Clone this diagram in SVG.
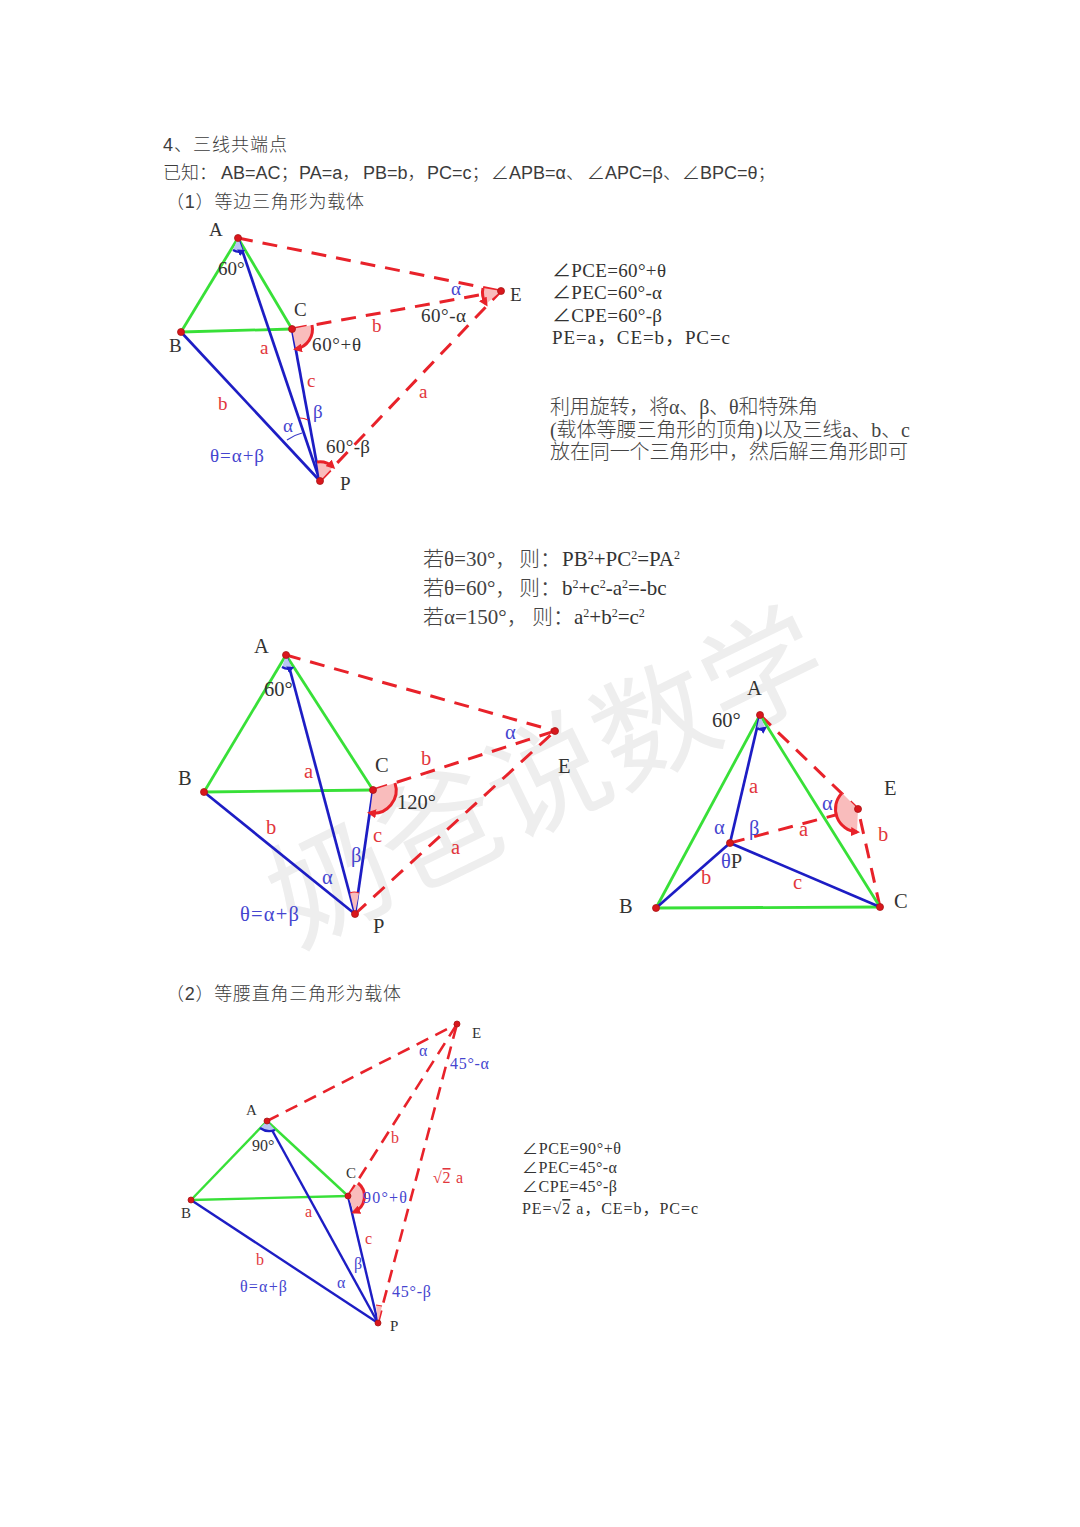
<svg xmlns="http://www.w3.org/2000/svg" width="1080" height="1527" viewBox="0 0 1080 1527">
<style>
text{font-family:"Liberation Serif","Noto Sans CJK SC",serif;fill:#333}
.h{font-family:"Liberation Sans","Noto Sans CJK SC",sans-serif;font-size:18px;fill:#3c3c3c;font-weight:300}
.wm{font-family:"Noto Sans CJK SC",sans-serif;font-size:120px;fill:#eeeeee;font-weight:400}
.cn{fill:#444;font-weight:300}
.t19{font-size:19px}.t20{font-size:20px}.t21{font-size:21px}.t16{font-size:16px}
.s18{font-size:19px}.s20{font-size:20.5px}.s15{font-size:15px}.s16{font-size:16px}
.r{fill:#e2363c}.b{fill:#4545cf}.k{fill:#333}
.g{stroke:#38e038;stroke-width:2.8;fill:none}
.u{stroke:#1d1dc4;stroke-width:2.7;fill:none}
.d{stroke:#e8222a;stroke-width:3;fill:none;stroke-dasharray:15 10}
.d4 .g,.d4 .u{stroke-width:2.4}.d4 .d{stroke-width:2.6;stroke-dasharray:13 8}
.w{fill:#f9bcbc;stroke:none}.wb{fill:#b9c4f2;stroke:none}
.a{stroke:#e8222a;stroke-width:3;fill:none}
.ab{stroke:#1d1dc4;stroke-width:2.4;fill:none}
.th{stroke:#e8222a;stroke-width:1.2;fill:none}.thb{stroke:#3d3dc8;stroke-width:1.2;fill:none}
.p{fill:#d9161c;stroke:#a81616;stroke-width:.8}
</style>
<defs>
<marker id="mr" markerWidth="3" markerHeight="3" refX="2" refY="1.5" orient="auto" markerUnits="strokeWidth"><path d="M0 0L3 1.5L0 3Z" fill="#e8222a"/></marker>
<marker id="mb" markerWidth="3" markerHeight="3" refX="2" refY="1.5" orient="auto" markerUnits="strokeWidth"><path d="M0 0L3 1.5L0 3Z" fill="#1d1dc4"/></marker>
</defs>
<rect width="1080" height="1527" fill="#fff"/>
<text class="wm" x="566" y="816" text-anchor="middle" transform="rotate(-26 566 816)">奶爸说数学</text>

<g id="heading">
<text class="h" x="163" y="151" textLength="124">4、三线共端点</text>
<text class="h" y="179"><tspan x="163">已知：</tspan><tspan x="221">AB=AC；</tspan><tspan x="299">PA=a，</tspan><tspan x="363">PB=b，</tspan><tspan x="427">PC=c；</tspan><tspan x="491">∠APB=α、</tspan><tspan x="587">∠APC=β、</tspan><tspan x="682">∠BPC=θ；</tspan></text>
<text class="h" x="166" y="208" textLength="198">（1）等边三角形为载体</text>
<text class="h" x="166" y="1000" textLength="235">（2）等腰直角三角形为载体</text>
</g>

<g id="notes-1" class="t19">
<text x="552" y="277" textLength="114">∠PCE=60°+θ</text>
<text x="552" y="299" textLength="110">∠PEC=60°-α</text>
<text x="552" y="322" textLength="110">∠CPE=60°-β</text>
<text x="552" y="344" textLength="178">PE=a，CE=b，PC=c</text>
<text class="t20 cn" x="550" y="414" textLength="268">利用旋转，将α、β、θ和特殊角</text>
<text class="t20 cn" x="550" y="437" textLength="360">(载体等腰三角形的顶角)以及三线a、b、c</text>
<text class="t20 cn" x="550" y="459" textLength="358">放在同一个三角形中，然后解三角形即可</text>
</g>
<g id="notes-2" class="t21">
<text class="cn" x="423" y="566">若θ=30°，</text><text class="cn" x="519" y="566">则：</text><text x="562" y="566">PB<tspan font-size="12" dy="-7">2</tspan><tspan dy="7">+PC</tspan><tspan font-size="12" dy="-7">2</tspan><tspan dy="7">=PA</tspan><tspan font-size="12" dy="-7">2</tspan></text>
<text class="cn" x="423" y="595">若θ=60°，</text><text class="cn" x="519" y="595">则：</text><text x="562" y="595">b<tspan font-size="12" dy="-7">2</tspan><tspan dy="7">+c</tspan><tspan font-size="12" dy="-7">2</tspan><tspan dy="7">-a</tspan><tspan font-size="12" dy="-7">2</tspan><tspan dy="7">=-bc</tspan></text>
<text class="cn" x="423" y="624">若α=150°，</text><text class="cn" x="532" y="624">则：</text><text x="574" y="624">a<tspan font-size="12" dy="-7">2</tspan><tspan dy="7">+b</tspan><tspan font-size="12" dy="-7">2</tspan><tspan dy="7">=c</tspan><tspan font-size="12" dy="-7">2</tspan></text>
</g>
<g id="notes-3" class="t16">
<text x="522" y="1154" textLength="99">∠PCE=90°+θ</text>
<text x="522" y="1173" textLength="95">∠PEC=45°-α</text>
<text x="522" y="1192" textLength="95">∠CPE=45°-β</text>
<text x="522" y="1214" textLength="176">PE=√<tspan text-decoration="overline">2</tspan> a，CE=b，PC=c</text>
</g>

<!-- figure 1 -->
<g id="connectors-1">
<path class="d" d="M238 238L501 291"/><path class="d" d="M292 329L501 291"/><path class="d" d="M320 481L501 291"/>
<path class="g" d="M238 238L181 332"/><path class="g" d="M238 238L292 329"/><path class="g" d="M181 332L292 329"/>
<path class="u" d="M238 238L320 481"/><path class="u" d="M181 332L320 481"/><path class="u" d="M292 329L320 481"/>
</g>
<g id="angles-1">
<path class="wb" d="M238 238L233 250Q238 253 243 251Z"/><path class="ab" marker-end="url(#mb)" d="M233 250Q238 253 243 251"/>
<path class="w" d="M292 329L312 325A20 20 0 0 1 296 349Z"/><path class="a" marker-end="url(#mr)" d="M312 325A20 20 0 0 1 296 349"/>
<path class="w" d="M501 291L483 288Q481 296 486 304Z"/><path class="a" marker-end="url(#mr)" d="M483 288Q481 296 486 304"/>
<path class="w" d="M320 481L317 462A19 19 0 0 1 333 467Z"/><path class="a" marker-end="url(#mr)" d="M317 462A19 19 0 0 1 333 467"/>
<path class="thb" d="M287 440Q294 435 302 433"/><path class="th" d="M300 418Q304 418 308 420"/>
</g>
<g id="n1-A"><circle class="p" cx="238" cy="238" r="3.5"/><text class="s18" x="209" y="236">A</text><text class="s18" x="218" y="275">60°</text></g>
<g id="n1-B"><circle class="p" cx="181" cy="332" r="3.5"/><text class="s18" x="169" y="352">B</text></g>
<g id="n1-C"><circle class="p" cx="292" cy="329" r="3.5"/><text class="s18" x="294" y="316">C</text><text class="s18" x="312" y="351" textLength="49">60°+θ</text></g>
<g id="n1-P"><circle class="p" cx="320" cy="481" r="3.5"/><text class="s18" x="340" y="490">P</text><text class="s18" x="326" y="453" textLength="44">60°-β</text></g>
<g id="n1-E"><circle class="p" cx="501" cy="291" r="3.5"/><text class="s18" x="510" y="301">E</text><text class="s18" x="421" y="322" textLength="45">60°-α</text></g>
<g id="labels-1" class="s18">
<text class="r" x="260" y="354">a</text><text class="r" x="372" y="332">b</text><text class="r" x="307" y="387">c</text><text class="r" x="218" y="410">b</text><text class="r" x="419" y="398">a</text>
<text class="b" x="451" y="295">α</text><text class="b" x="313" y="418">β</text><text class="b" x="283" y="432">α</text><text class="b" x="210" y="462" textLength="54">θ=α+β</text>
</g>

<!-- figure 2 -->
<g id="connectors-2">
<path class="d" d="M286 655L555 731"/><path class="d" d="M373 790L555 731"/><path class="d" d="M355 914L555 731"/>
<path class="g" d="M286 655L204 792"/><path class="g" d="M286 655L373 790"/><path class="g" d="M204 792L373 790"/>
<path class="u" d="M286 655L355 914"/><path class="u" d="M204 792L355 914"/><path class="u" d="M373 790L355 914"/>
</g>
<g id="angles-2">
<path class="wb" d="M286 655L282 667Q287 670 292 668Z"/><path class="ab" marker-end="url(#mb)" d="M282 667Q287 670 292 668"/>
<path class="w" d="M373 790L395 783A23 23 0 0 1 370 813Z"/><path class="a" marker-end="url(#mr)" d="M395 783A23 23 0 0 1 370 813"/>
<path class="w" d="M355 914L350 893Q354 891 359 893Z"/><path class="th" d="M350 893Q354 891 359 893"/>
</g>
<g id="n2-A"><circle class="p" cx="286" cy="655" r="3.5"/><text class="s20" x="254" y="653">A</text><text class="s20" x="264" y="696">60°</text></g>
<g id="n2-B"><circle class="p" cx="204" cy="792" r="3.5"/><text class="s20" x="178" y="785">B</text></g>
<g id="n2-C"><circle class="p" cx="373" cy="790" r="3.5"/><text class="s20" x="375" y="772">C</text><text class="s20" x="397" y="809">120°</text></g>
<g id="n2-P"><circle class="p" cx="355" cy="914" r="3.5"/><text class="s20" x="373" y="933">P</text></g>
<g id="n2-E"><circle class="p" cx="555" cy="731" r="3.5"/><text class="s20" x="558" y="773">E</text></g>
<g id="labels-2" class="s20">
<text class="r" x="304" y="778">a</text><text class="r" x="421" y="765">b</text><text class="r" x="266" y="834">b</text><text class="r" x="373" y="842">c</text><text class="r" x="451" y="854">a</text>
<text class="b" x="505" y="739">α</text><text class="b" x="351" y="862">β</text><text class="b" x="322" y="884">α</text><text class="b" x="240" y="921" textLength="59">θ=α+β</text>
</g>

<!-- figure 3 -->
<g id="connectors-3">
<path class="d" d="M760 715L858 809"/><path class="d" d="M880 907L858 809"/><path class="d" d="M730 843L858 809"/>
<path class="g" d="M760 715L656 908"/><path class="g" d="M760 715L880 907"/><path class="g" d="M656 908L880 907"/>
<path class="u" d="M760 715L730 843"/><path class="u" d="M656 908L730 843"/><path class="u" d="M880 907L730 843"/>
</g>
<g id="angles-3">
<path class="wb" d="M760 715L757 728Q761 731 765 728Z"/><path class="ab" marker-end="url(#mb)" d="M757 728Q761 731 765 728"/>
<path class="w" d="M858 809L842 793A23 23 0 0 0 857 832Z"/><path class="a" marker-end="url(#mr)" d="M842 793A23 23 0 0 0 857 832"/>
</g>
<g id="n3-A"><circle class="p" cx="760" cy="715" r="3.5"/><text class="s20" x="747" y="695">A</text><text class="s20" x="712" y="727">60°</text></g>
<g id="n3-B"><circle class="p" cx="656" cy="908" r="3.5"/><text class="s20" x="619" y="913">B</text></g>
<g id="n3-C"><circle class="p" cx="880" cy="907" r="3.5"/><text class="s20" x="894" y="908">C</text></g>
<g id="n3-P"><circle class="p" cx="730" cy="843" r="3.5"/><text class="s20" x="721" y="868"><tspan class="b">θ</tspan>P</text></g>
<g id="n3-E"><circle class="p" cx="858" cy="809" r="3.5"/><text class="s20" x="884" y="795">E</text></g>
<g id="labels-3" class="s20">
<text class="r" x="749" y="793">a</text><text class="r" x="799" y="836">a</text><text class="r" x="878" y="841">b</text><text class="r" x="701" y="884">b</text><text class="r" x="793" y="889">c</text>
<text class="b" x="714" y="834">α</text><text class="b" x="749" y="835">β</text><text class="b" x="822" y="810">α</text>
</g>

<!-- figure 4 -->
<g id="connectors-4" class="d4">
<path class="d" d="M267 1121L457 1024"/><path class="d" d="M348 1196L457 1024"/><path class="d" d="M378 1323L457 1024"/>
<path class="g" d="M267 1121L191 1200"/><path class="g" d="M267 1121L348 1196"/><path class="g" d="M191 1200L348 1196"/>
<path class="u" d="M267 1121L378 1323"/><path class="u" d="M191 1200L378 1323"/><path class="u" d="M348 1196L378 1323"/>
</g>
<g id="angles-4">
<path class="wb" d="M267 1121L260 1128Q267 1133 275 1130Z"/><path class="ab" d="M260 1128Q267 1133 275 1130"/>
<path class="w" d="M348 1196L358 1183A17 17 0 0 1 354 1212Z"/><path class="a" stroke-width="2.5" marker-end="url(#mr)" d="M358 1183A17 17 0 0 1 354 1212"/>
<path class="w" d="M378 1323L376 1305L382 1306Z"/><path class="th" d="M376 1305L382 1306"/>
</g>
<g id="n4-A"><circle class="p" cx="267" cy="1121" r="3"/><text class="s15" x="246" y="1115">A</text><text class="s16" x="252" y="1151">90°</text></g>
<g id="n4-B"><circle class="p" cx="191" cy="1200" r="3"/><text class="s15" x="181" y="1218">B</text></g>
<g id="n4-C"><circle class="p" cx="348" cy="1196" r="3"/><text class="s15" x="346" y="1178">C</text></g>
<g id="n4-P"><circle class="p" cx="378" cy="1323" r="3"/><text class="s15" x="390" y="1331">P</text></g>
<g id="n4-E"><circle class="p" cx="457" cy="1024" r="3"/><text class="s15" x="472" y="1038">E</text></g>
<g id="labels-4" class="s16">
<text class="r" x="305" y="1217">a</text><text class="r" x="391" y="1143">b</text><text class="r" x="365" y="1244">c</text><text class="r" x="256" y="1265">b</text><text class="r" x="433" y="1183" textLength="30">√<tspan text-decoration="overline">2</tspan> a</text>
<text class="b" x="419" y="1056">α</text><text class="b" x="450" y="1069" textLength="39">45°-α</text><text class="b" x="363" y="1203" textLength="44">90°+θ</text><text class="b" x="354" y="1269">β</text><text class="b" x="337" y="1288">α</text><text class="b" x="240" y="1292" textLength="47">θ=α+β</text><text class="b" x="392" y="1297" textLength="39">45°-β</text>
</g>
</svg>
